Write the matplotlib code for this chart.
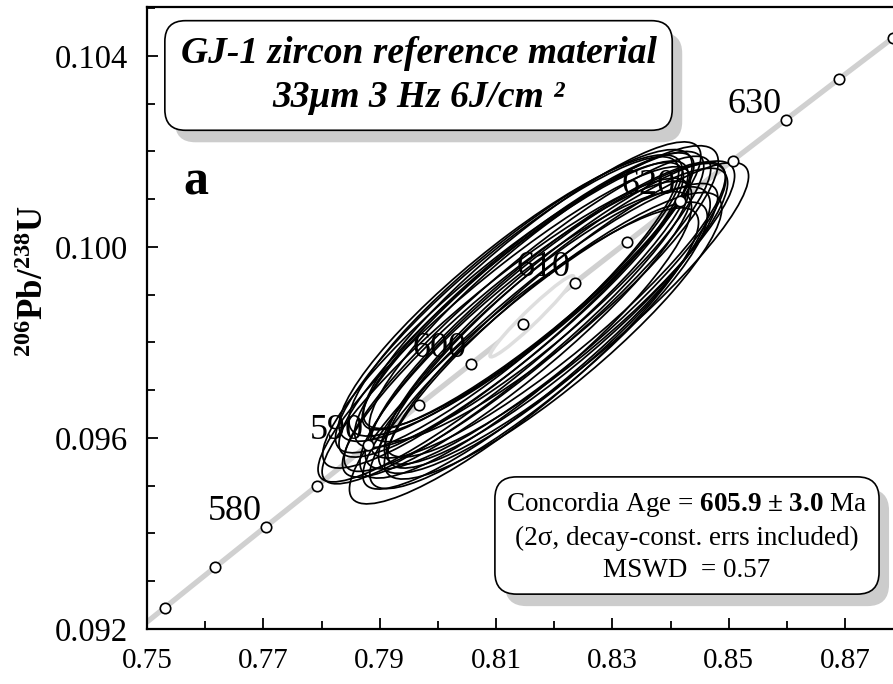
import numpy as np
import matplotlib.pyplot as plt
from matplotlib.patches import Ellipse, PathPatch
from matplotlib.path import Path
from matplotlib.ticker import FixedLocator, MultipleLocator, FormatStrFormatter
from matplotlib.transforms import IdentityTransform

plt.rcParams['font.family'] = ['Liberation Serif', 'DejaVu Serif']
plt.rcParams['mathtext.fontset'] = 'custom'
plt.rcParams['mathtext.rm'] = 'Liberation Serif'
plt.rcParams['mathtext.bf'] = 'Liberation Serif:bold'
plt.rcParams['mathtext.it'] = 'Liberation Serif:italic'

# decay constants (1/yr)
LAMBDA_238 = 1.55125e-10
LAMBDA_235 = 9.8485e-10

x_ticks = [0.75, 0.77, 0.79, 0.81, 0.83, 0.85, 0.87]
y_ticks = [0.092, 0.096, 0.100, 0.104]

# concordia tick ages (Ma) and which ones get a label
tick_ages = [570, 575, 580, 585, 590, 595, 600, 605, 610, 615, 620, 625, 630, 635, 640]
labelled_ages = [580, 590, 600, 610, 620, 630]

# concordia age result
conc_age = 605.9
conc_err = 3.0
mswd = 0.57
conc_ellipse = (0.0072, 0.00085, 0.97)  # 2s 207/235, 2s 206/238, rho

# spot analyses: 207Pb/235U, 206Pb/238U, 2s errors, error correlation
pb207_u235 = [0.8148, 0.8112, 0.8151, 0.8119, 0.8176, 0.8154, 0.8198, 0.8157,
              0.8155, 0.8203, 0.8182, 0.8224, 0.8114, 0.8173, 0.8142, 0.8189,
              0.8130, 0.8183, 0.8185, 0.8136, 0.8162, 0.8125, 0.8210, 0.8116]
pb206_u238 = [0.09772, 0.09857, 0.09816, 0.09879, 0.09813, 0.09860, 0.09814, 0.09890,
              0.09907, 0.09855, 0.09902, 0.09857, 0.09838, 0.09794, 0.09904, 0.09868,
              0.09870, 0.09826, 0.09855, 0.09828, 0.09920, 0.09893, 0.09870, 0.09824]
err_x = [0.0300, 0.0310, 0.0285, 0.0295, 0.0305, 0.0315, 0.0290, 0.0300,
         0.0285, 0.0295, 0.0300, 0.0310, 0.0320, 0.0290, 0.0295, 0.0305,
         0.0300, 0.0285, 0.0310, 0.0300, 0.0290, 0.0295, 0.0300, 0.0315]
err_y = [0.0031, 0.0032, 0.0030, 0.0031, 0.0032, 0.0033, 0.0030, 0.0031,
         0.0029, 0.0031, 0.0031, 0.0032, 0.0033, 0.0030, 0.0030, 0.0031,
         0.0031, 0.0030, 0.0032, 0.0031, 0.0030, 0.0030, 0.0031, 0.0032]
rho = [0.90, 0.91, 0.89, 0.90, 0.91, 0.92, 0.89, 0.90, 0.91, 0.90, 0.89, 0.91,
       0.92, 0.90, 0.89, 0.90, 0.91, 0.88, 0.90, 0.91, 0.90, 0.89, 0.90, 0.92]


def concordia(age_ma):
    t = np.asarray(age_ma, dtype=float) * 1e6
    return np.exp(LAMBDA_235 * t) - 1, np.exp(LAMBDA_238 * t) - 1


def error_ellipse(cx, cy, sx, sy, r, **kw):
    cov = np.array([[sx * sx, r * sx * sy], [r * sx * sy, sy * sy]])
    vals, vecs = np.linalg.eigh(cov)
    angle = np.degrees(np.arctan2(vecs[1, 1], vecs[0, 1]))
    return Ellipse((cx, cy), 2 * np.sqrt(vals[1]), 2 * np.sqrt(vals[0]),
                   angle=angle, **kw)


def add_shadow(ax, text, dx=10, dy=-12):
    # grey copy of the text's box, shifted down-right in pixels
    bp = text.get_bbox_patch()
    path = bp.get_transform().transform_path(bp.get_path())
    moved = Path(path.vertices + np.array([dx, dy]), path.codes)
    ax.add_patch(PathPatch(moved, transform=IdentityTransform(), fc='#cccccc',
                           ec='none', zorder=7, clip_on=False))


fig = plt.figure(figsize=(8.93, 6.84), dpi=100)
ax = fig.add_axes([147 / 893, 55 / 684, 753 / 893, 622 / 684])
ax.set_xlim(0.75, 0.87943)
ax.set_ylim(0.092, 0.105025)

# concordia curve and age ticks
curve_x, curve_y = concordia(np.linspace(560, 650, 200))
ax.plot(curve_x, curve_y, color='#d0d0d0', lw=3.8, zorder=1, solid_capstyle='butt')
tx, ty = concordia(tick_ages)
ax.plot(tx, ty, 'o', ms=7.5, mfc='white', mec='black', mew=1.2, zorder=5)
for age in labelled_ages:
    lx, ly = concordia(age)
    ax.annotate(str(age), (lx, ly), xytext=(-3, 5), textcoords='offset points',
                ha='right', va='baseline', fontsize=26, zorder=6)

# concordia age ellipse
cx, cy = concordia(conc_age)
ax.add_patch(error_ellipse(cx, cy, *conc_ellipse, facecolor='white',
                           edgecolor='#dedede', lw=2.5, zorder=2))

# analyses
for i in range(len(pb207_u235)):
    ax.add_patch(error_ellipse(pb207_u235[i], pb206_u238[i], err_x[i], err_y[i], rho[i],
                               facecolor='none', edgecolor='black', lw=1.25, zorder=3))

# axes styling
for side in ['left', 'bottom', 'top', 'right']:
    ax.spines[side].set_linewidth(1.6)
ax.xaxis.set_major_locator(FixedLocator(x_ticks))
ax.xaxis.set_minor_locator(MultipleLocator(0.01))
ax.yaxis.set_major_locator(FixedLocator(y_ticks))
ax.yaxis.set_minor_locator(MultipleLocator(0.001))
ax.xaxis.set_major_formatter(FormatStrFormatter('%.2f'))
ax.yaxis.set_major_formatter(FormatStrFormatter('%.3f'))
ax.tick_params(which='both', direction='in', width=1.3, top=False, right=False)
ax.tick_params(which='major', length=8)
ax.tick_params(which='minor', length=6)
ax.tick_params(axis='x', which='major', pad=14, labelsize=21)
ax.tick_params(axis='y', which='major', pad=14, labelsize=23.5)

ax.set_ylabel(r'$\mathbf{^{206}Pb/^{238}U}$', fontsize=25)
ax.yaxis.set_label_coords(-0.128, 0.56)

# title box
title = 'GJ-1 zircon reference material\n33μm 3 Hz 6J/cm ²'
title_text = ax.text(0.3606, 0.8899, title, ha='center', va='center', fontsize=27,
                     fontweight='bold', fontstyle='italic', linespacing=1.3,
                     transform=ax.transAxes, zorder=8,
                     bbox=dict(boxstyle='round,pad=0.42,rounding_size=0.55',
                               fc='white', ec='black', lw=1.2))

ax.text(0.048, 0.698, 'a', transform=ax.transAxes, fontsize=36, fontweight='bold',
        ha='left', va='baseline')

# result box
result = ('Concordia Age = $\\mathbf{%.1f\\ ±\\ %.1f}$ Ma\n'
          '(2σ, decay-const. errs included)\n'
          'MSWD  = %.2f') % (conc_age, conc_err, mswd)
result_text = ax.text(0.7171, 0.1487, result, ha='center', va='center', fontsize=19.5,
                      linespacing=1.35, transform=ax.transAxes, zorder=8,
                      bbox=dict(boxstyle='round,pad=0.42,rounding_size=0.8',
                                fc='white', ec='black', lw=1.2))

fig.canvas.draw()
add_shadow(ax, title_text)
add_shadow(ax, result_text)

fig.savefig('out.png', dpi=100)
